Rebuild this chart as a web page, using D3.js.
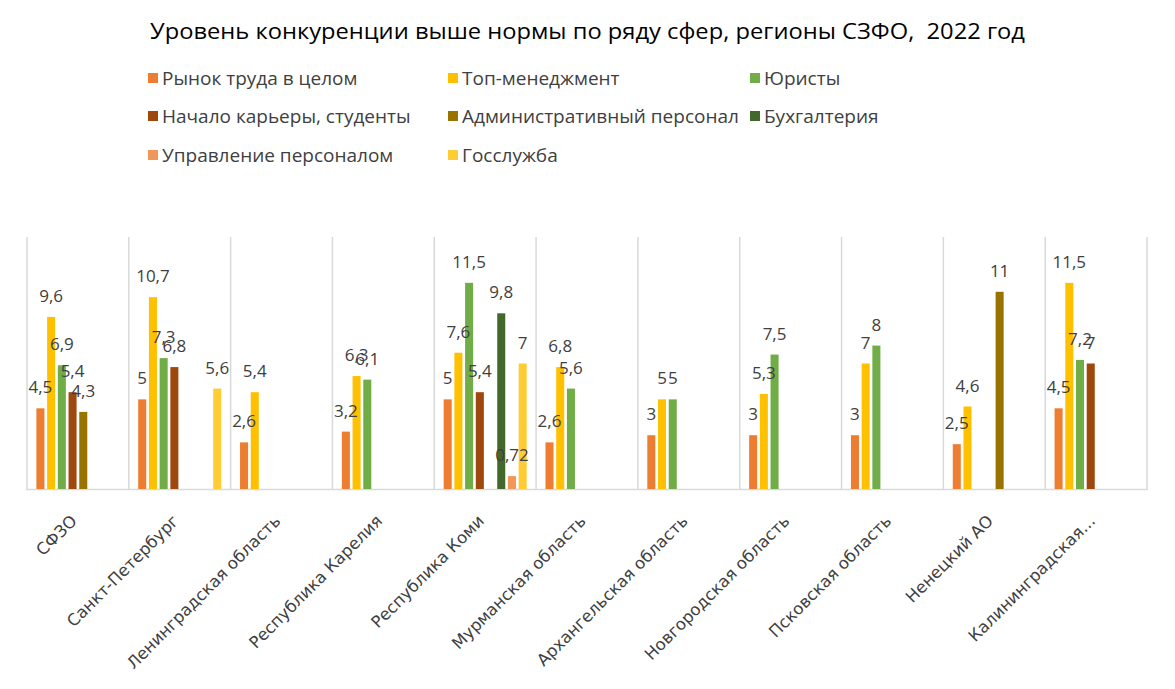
<!DOCTYPE html>
<html><head><meta charset="utf-8">
<script src="https://cdn.jsdelivr.net/npm/d3@7"></script>
<style>body{margin:0;background:#fff}svg{display:block}</style>
</head><body><svg id="c" width="1175" height="689"></svg>
<script>
const title = "Уровень конкуренции выше нормы по ряду сфер, регионы СЗФО,  2022 год";
const regions = ["СФЗО","Санкт-Петербург","Ленинградская область","Республика Карелия","Республика Коми","Мурманская область","Архангельская область","Новгородская область","Псковская область","Ненецкий АО","Калининградская..."];
const seriesNames = ["Рынок труда в целом","Топ-менеджмент","Юристы","Начало карьеры, студенты","Административный персонал","Бухгалтерия","Управление персоналом","Госслужба"];
const seriesColors = ["#ED7D31","#FFC000","#70AD47","#9E480E","#997300","#43682B","#F1975A","#FFCD33"];
const rynok   = [4.5, 5, 2.6, 3.2, 5, 2.6, 3, 3, 3, 2.5, 4.5];
const topMgmt = [9.6, 10.7, 5.4, 6.3, 7.6, 6.8, 5, 5.3, 7, 4.6, 11.5];
const yuristy = [6.9, 7.3, null, 6.1, 11.5, 5.6, 5, 7.5, 8, null, 7.2];
const nachalo = [5.4, 6.8, null, null, 5.4, null, null, null, null, null, 7];
const admin   = [4.3, null, null, null, null, null, null, null, null, 11, null];
const buh     = [null, null, null, null, 9.8, null, null, null, null, null, null];
const upr     = [null, null, null, null, 0.72, null, null, null, null, null, null];
const gos     = [null, 5.6, null, null, 7, null, null, null, null, null, null];
const seriesValues = [rynok, topMgmt, yuristy, nachalo, admin, buh, upr, gos];
const yMax = 14;

const svg = d3.select("#c");
const FONT = "'Open Sans', Lato, sans-serif";

svg.append("text").attr("x", 587.5).attr("y", 39).attr("text-anchor","middle")
  .attr("font-family", FONT).attr("font-size", 21).attr("font-weight", 500)
  .style("white-space","pre")
  .attr("fill","#000").attr("textLength", 875).attr("lengthAdjust","spacingAndGlyphs").text(title);

// legend
const legX = [148, 448, 750], legY = [78, 116, 155];
seriesNames.forEach((n,i)=>{
  const col = i % 3, row = Math.floor(i/3);
  const g = svg.append("g").attr("transform", `translate(${legX[col]},${legY[row]})`);
  g.append("rect").attr("x",0).attr("y",-5).attr("width",10).attr("height",10).attr("fill",seriesColors[i]);
  g.append("text").attr("x",14).attr("y",0).attr("dy","0.35em").attr("font-family",FONT)
    .attr("font-size",19).attr("fill","#404040").text(n);
});

const x0 = d3.scaleBand().domain(regions).range([27,1147]).padding(0);
const x1 = d3.scaleBand().domain(d3.range(seriesNames.length))
  .range([9.4, x0.bandwidth()-9.4]).paddingInner(0.25).paddingOuter(0);
const y = d3.scaleLinear().domain([0,yMax]).range([489,238]);

// vertical gridlines at category boundaries
const bounds = regions.map(r=>x0(r)).concat([x0.range()[1]]);
svg.append("g").selectAll("line").data(bounds).join("line")
  .attr("x1",d=>d).attr("x2",d=>d).attr("y1",237).attr("y2",489)
  .attr("stroke","#d9d9d9").attr("stroke-width",1.5);
svg.append("line").attr("x1",26).attr("x2",1148).attr("y1",489.5).attr("y2",489.5)
  .attr("stroke","#d9d9d9").attr("stroke-width",1.5);

const flat = [];
seriesValues.forEach((arr,s)=>arr.forEach((v,i)=>{ if(v!=null) flat.push({s,i,v}); }));
const bars = svg.append("g");
bars.selectAll("rect").data(flat).join("rect")
  .attr("x",d=>x0(regions[d.i])+x1(d.s)).attr("width",x1.bandwidth())
  .attr("y",d=>y(d.v)).attr("height",d=>y(0)-y(d.v)).attr("fill",d=>seriesColors[d.s]);
bars.selectAll("text").data(flat).join("text")
  .attr("x",d=>x0(regions[d.i])+x1(d.s)+x1.bandwidth()/2).attr("y",d=>y(d.v)-15)
  .attr("text-anchor","middle").attr("font-family",FONT).attr("font-size",17)
  .attr("fill","#404040").text(d=>String(d.v).replace(".",","));

// x axis labels
const xa = svg.append("g");
xa.selectAll("text").data(regions).join("text")
  .attr("transform",d=>`translate(${x0(d)+x0.bandwidth()/2},${522}) rotate(-45)`)
  .attr("text-anchor","end").attr("font-family","'DejaVu Sans', sans-serif").attr("font-size",16.5)
  .attr("fill","#404040").text(d=>d);
</script></body></html>
